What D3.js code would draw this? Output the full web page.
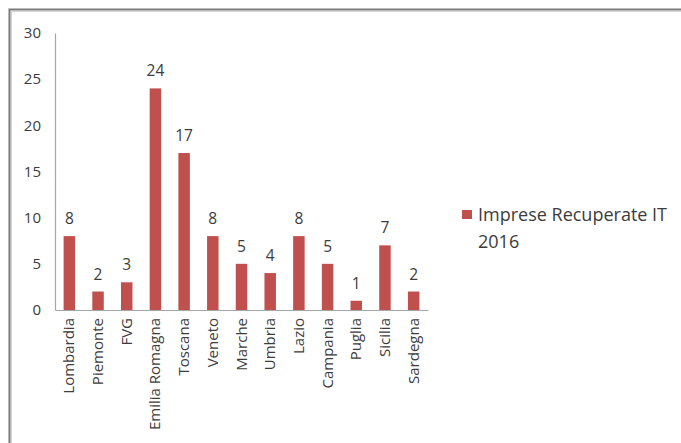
<!DOCTYPE html>
<html>
<head>
<meta charset="utf-8">
<script src="https://cdn.jsdelivr.net/npm/d3@7"></script>
<style>
  body { margin: 0; background: #fff; }
  svg { display: block; font-family: "Open Sans", sans-serif; }
</style>
</head>
<body>
<div class="container"></div>
<script>
// dati
const regioni = ['Lombardia', 'Piemonte', 'FVG', 'Emilia Romagna', 'Toscana', 'Veneto',
  'Marche', 'Umbria', 'Lazio', 'Campania', 'Puglia', 'Sicilia', 'Sardegna']
const imprese = [8, 2, 3, 24, 17, 8, 5, 4, 8, 5, 1, 7, 2]
const yTicks = [0, 5, 10, 15, 20, 25, 30]
const serieNome = ['Imprese Recuperate IT', '2016']

const w = 681
const h = 443
const plot = {left: 55, right: 428, top: 33, bottom: 310}
const barColor = '#c0504d'
const textColor = '#3c3c3c'

const svg = d3.select('.container')
              .append('svg')
              .attr('width', w)
              .attr('height', h)

// cornice
svg.append('path')
   .attr('d', 'M10,443 V10 H681')
   .attr('fill', 'none')
   .attr('stroke', '#d4d4d4')
   .attr('stroke-width', 4)
svg.append('path')
   .attr('d', 'M9.5,443 V9.5 H681')
   .attr('fill', 'none')
   .attr('stroke', '#7a7a7a')
   .attr('stroke-width', 1.6)

// scale
const xScale = d3.scaleBand()
                 .domain(regioni)
                 .range([plot.left, plot.right])
                 .paddingInner(0.6)
                 .paddingOuter(0.3)
const yScale = d3.scaleLinear()
                 .domain([0, 30])
                 .range([plot.bottom, plot.top])

// asse y
const yAxis = d3.axisLeft(yScale).tickValues(yTicks).tickSize(0).tickPadding(14)
const gy = svg.append('g')
              .attr('class', 'y-axis')
              .attr('transform', 'translate(' + plot.left + ',0)')
              .call(yAxis)
gy.select('.domain').attr('stroke', '#a6a6a6').attr('stroke-width', 1.2)
gy.selectAll('text')
  .attr('fill', textColor)
  .style('font-size', '15px')
  .style('font-family', '"Open Sans", sans-serif')

// barre
svg.append('g')
   .attr('class', 'bars')
   .selectAll('rect')
   .data(imprese)
   .enter()
   .append('rect')
   .attr('x', (d, i) => xScale(regioni[i]))
   .attr('y', (d) => yScale(d))
   .attr('width', xScale.bandwidth())
   .attr('height', (d) => yScale(0) - yScale(d))
   .attr('fill', barColor)

// etichette valori
svg.append('g')
   .attr('class', 'labels')
   .selectAll('text')
   .data(imprese)
   .enter()
   .append('text')
   .attr('x', (d, i) => xScale(regioni[i]) + xScale.bandwidth() / 2)
   .attr('y', (d) => yScale(d) - 12)
   .attr('text-anchor', 'middle')
   .attr('fill', textColor)
   .style('font-size', '15.5px')
   .text((d) => d)

// asse x
const xAxis = d3.axisBottom(xScale).tickSize(0).tickPadding(0)
const gx = svg.append('g')
              .attr('class', 'x-axis')
              .attr('transform', 'translate(0,' + plot.bottom + ')')
              .call(xAxis)
gx.select('.domain').attr('stroke', '#a6a6a6').attr('stroke-width', 1.2)
gx.selectAll('text')
  .attr('fill', textColor)
  .style('font-size', '15px')
  .style('font-family', '"Open Sans", sans-serif')
  .attr('text-anchor', 'end')
  .attr('dy', null)
  .attr('y', 0)
  .attr('transform', 'translate(5,8) rotate(-90)')

// legenda
const legend = svg.append('g')
                  .attr('class', 'legend')
                  .attr('transform', 'translate(462,210)')
legend.append('rect')
      .attr('width', 10)
      .attr('height', 9)
      .attr('fill', barColor)
legend.selectAll('text')
      .data(serieNome)
      .enter()
      .append('text')
      .attr('x', 16)
      .attr('y', (d, i) => 11 + i * 27)
      .attr('fill', textColor)
      .style('font-size', '18px')
      .text((d) => d)
</script>
</body>
</html>
